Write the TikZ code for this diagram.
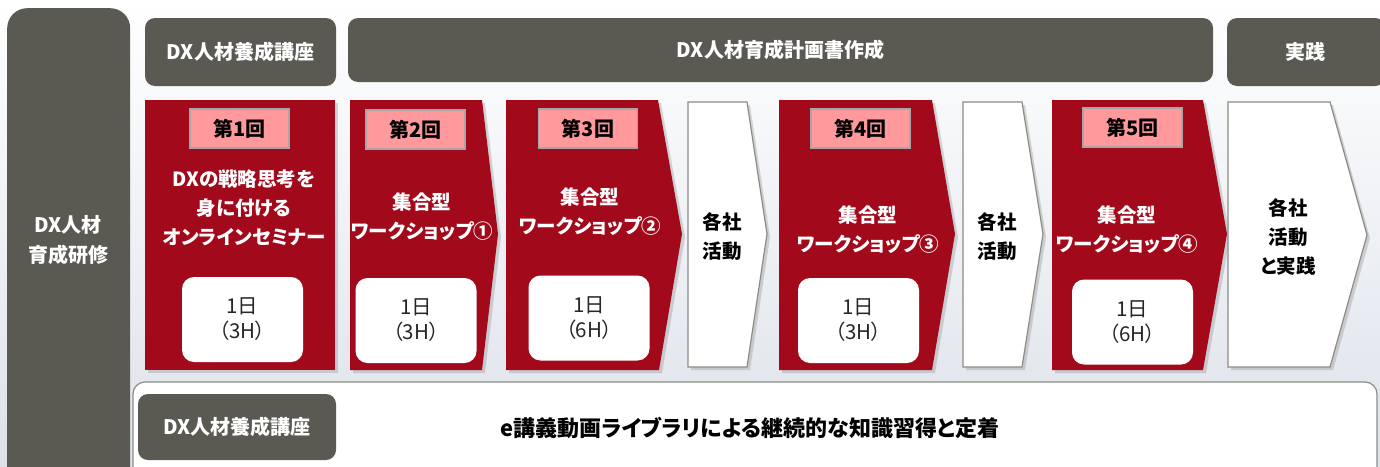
\documentclass[tikz,border=0pt]{standalone}
\usepackage{fontspec}
\setmainfont{Noto Sans CJK JP}[RawFeature=+palt]
\usepackage{xcolor}
\usepackage{tikz}
\usetikzlibrary{shadows, positioning, calc}
\definecolor{hdrgray}{HTML}{5A5A52}
\definecolor{stepred}{HTML}{A20A1C}
\definecolor{tagpink}{HTML}{FF999B}
\definecolor{edgegray}{HTML}{8C8C84}
\definecolor{backblue}{HTML}{DDE2EA}
\tikzset{
  hdrblock/.style={
    rectangle, fill=hdrgray, rounded corners=10pt, text=white,
    font=\fontsize{20}{28}\selectfont\bfseries, inner sep=0pt
  },
  redstep/.style={
    fill=stepred,
    drop shadow={shadow xshift=3pt, shadow yshift=-3pt, opacity=0.3}
  },
  whitestep/.style={
    fill=white, draw=edgegray, line width=1.2pt,
    drop shadow={shadow xshift=3pt, shadow yshift=-3pt, opacity=0.3}
  },
  tagbox/.style={
    rectangle, fill=tagpink, draw=gray!70, line width=1.2pt,
    minimum width=99pt, minimum height=39pt, inner sep=0pt,
    font=\fontsize{20}{24}\selectfont\bfseries
  },
  daybox/.style={
    rectangle, fill=white, rounded corners=12pt,
    minimum width=121pt, minimum height=85pt, inner sep=0pt,
    align=center, text=black!85, font=\fontsize{20.5}{25}\selectfont
  },
  steptitle/.style={
    align=center, text=white, inner sep=0pt,
    font=\fontsize{19.5}{29}\selectfont\bfseries
  },
  acttext/.style={
    align=center, text=black, inner sep=0pt,
    font=\fontsize{19.5}{29}\selectfont\bfseries
  }
}
\begin{document}
\begin{tikzpicture}[x=1pt, y=-1pt]
  \useasboundingbox (0,0) rectangle (1380,466);
  \fill[top color=white, bottom color=backblue] (0,0) rectangle (1380,466);

  % left column and headers
  \node[hdrblock, rounded corners=20pt, minimum width=123pt, minimum height=480pt,
        align=center, anchor=north west] (sidebar) at (7,8) {};
  \node[hdrblock, align=center, font=\fontsize{20}{30}\selectfont\bfseries] (sidetext) at (68,240) {DX人材\\育成研修};
  \node[hdrblock, minimum width=191pt, minimum height=68pt] (hdrTrain) at (240.5,52) {DX人材養成講座};
  \node[hdrblock, minimum width=865pt, minimum height=64pt] (hdrPlan) at (780.5,50) {DX人材育成計画書作成};
  \node[hdrblock, minimum width=158pt, minimum height=68pt] (hdrPractice) at (1306,52) {};
  \node[text=white, font=\fontsize{20}{28}\selectfont\bfseries] (practiceText) at (1305,52) {実践};

  % steps
  \fill[redstep] (145,100) -- (335,100) -- (335,370) -- (145,370) -- cycle;
  \fill[redstep] (350,100) -- (482,100) -- (498,234) -- (482,370) -- (350,370) -- cycle;
  \fill[redstep] (506,100) -- (658,100) -- (682,234) -- (659,370) -- (506,370) -- cycle;
  \filldraw[whitestep] (688,102) -- (747,102) -- (767,234) -- (747,367) -- (688,367) -- cycle;
  \fill[redstep] (779,100) -- (932,100) -- (955,234) -- (932,370) -- (779,370) -- cycle;
  \filldraw[whitestep] (963,102) -- (1022,102) -- (1043,234) -- (1022,367) -- (963,367) -- cycle;
  \fill[redstep] (1052,100) -- (1203,100) -- (1227,234) -- (1203,370) -- (1052,370) -- cycle;
  \filldraw[whitestep] (1228,102) -- (1330,102) -- (1367,235) -- (1330,367) -- (1228,367) -- cycle;

  \node[tagbox] (tag1) at (239.5,128.5) {第1回};
  \node[tagbox] (tag2) at (415.5,129.5) {第2回};
  \node[tagbox] (tag3) at (588,128.5) {第3回};
  \node[tagbox] (tag4) at (860.5,128.5) {第4回};
  \node[tagbox] (tag5) at (1132.5,127.5) {第5回};

  \node[steptitle] (title1) at (244,208) {DXの戦略思考を\\身に付ける\\オンラインセミナー};
  \node[steptitle] (title2) at (422,217) {集合型\\ワークショップ①};
  \node[steptitle] (title3) at (590,212) {集合型\\ワークショップ②};
  \node[steptitle] (title4) at (868,230) {集合型\\ワークショップ③};
  \node[steptitle] (title5) at (1127,230) {集合型\\ワークショップ④};

  \node[daybox] (day1) at (242.5,319.5) {1日\\（3H）};
  \node[daybox] (day2) at (416,320.5) {1日\\（3H）};
  \node[daybox] (day3) at (589,318) {1日\\（6H）};
  \node[daybox] (day4) at (858.5,320.5) {1日\\（3H）};
  \node[daybox] (day5) at (1132.5,322) {1日\\（6H）};

  \node[acttext] (act1) at (722,237) {各社\\活動};
  \node[acttext] (act2) at (997,237) {各社\\活動};
  \node[acttext] (act3) at (1288,237) {各社\\活動\\と実践};

  % e-learning row
  \draw[fill=white, draw=edgegray, line width=1.2pt, rounded corners=12pt] (133,382) rectangle (1377,490);
  \node[hdrblock, minimum width=198pt, minimum height=66pt] (hdrLibrary) at (237,427) {DX人材養成講座};
  \node[text=black, font=\fontsize{22}{28}\selectfont\bfseries] (libText) at (750,428) {e講義動画ライブラリによる継続的な知識習得と定着};
\end{tikzpicture}
\end{document}
